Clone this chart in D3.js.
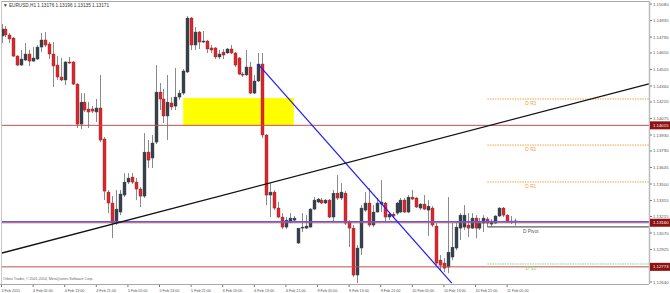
<!DOCTYPE html>
<html>
<head>
<meta charset="utf-8">
<script src="https://cdn.jsdelivr.net/npm/d3@7/dist/d3.min.js"></script>
<style>
  body { margin: 0; background: #fff; }
  svg { display: block; font-family: "Liberation Sans", Arial, sans-serif; }
</style>
</head>
<body>
<div id="chart"></div>
<script>
const title = '\u25BC EURUSD,H1  1.13176 1.13196 1.13135 1.13171';
const copyright = 'Orbex Trader, \u00A9 2001-2014, MetaQuotes Software Corp.';

// H1 bars, 3 Feb 21:00 .. 11 Feb 07:00
const opens = [
  1.14799,1.14860,1.14808,1.14781,1.14623,1.14544,1.14588,1.14641,1.14579,1.14597,
  1.14702,1.14764,1.14729,1.14641,1.14544,1.14439,1.14413,1.14571,1.14571,1.14377,
  1.14026,1.14219,1.14158,1.14158,1.14132,1.14167,1.13895,1.13429,1.13333,1.13157,
  1.13254,1.13403,1.13517,1.13561,1.13517,1.13456,1.13394,1.13780,1.13728,1.13868,
  1.14307,1.14246,1.14097,1.14211,1.14184,1.14263,1.14298,1.14483,1.14957,1.14720,
  1.14834,1.14746,1.14755,1.14694,1.14694,1.14615,1.14658,1.14650,1.14685,1.14650,
  1.14606,1.14465,1.14457,1.14527,1.14298,1.14404,1.14553,1.13930,1.13403,1.13429,
  1.13289,1.13210,1.13122,1.13166,1.13183,1.12982,1.13113,1.13113,1.13122,1.13280,
  1.13342,1.13359,1.13333,1.13359,1.13210,1.13420,1.13377,1.13420,1.13166,1.13113,
  1.12701,1.12938,1.13271,1.13333,1.13140,1.13254,1.13324,1.13333,1.13210,1.13236,
  1.13245,1.13254,1.13359,1.13254,1.13385,1.13377,1.13289,1.13324,1.13271,1.13289,
  1.13131,1.12832,1.12806,1.12771,1.12859,1.12938,1.13113,1.13122,1.13140,1.13113,
  1.13201,1.13113,1.13157,1.13192,1.13148,1.13157,1.13219,1.13289,1.13227,1.13166,
  1.13176
];
const highs = [
  1.14904,1.14887,1.14825,1.14790,1.14632,1.14676,1.14737,1.14676,1.14702,1.14720,
  1.14825,1.14834,1.14746,1.14746,1.14623,1.14606,1.14579,1.14615,1.14579,1.14386,
  1.14298,1.14298,1.14219,1.14184,1.14246,1.14457,1.13912,1.13447,1.13394,1.13447,
  1.13447,1.13596,1.13596,1.13596,1.13552,1.13473,1.13947,1.13886,1.13930,1.14544,
  1.14386,1.14334,1.14457,1.14263,1.14518,1.14325,1.14509,1.14975,1.14966,1.14878,
  1.14843,1.14843,1.14764,1.14720,1.14702,1.14676,1.14685,1.14694,1.14720,1.14658,
  1.14615,1.14483,1.14676,1.14571,1.14457,1.14650,1.14650,1.13939,1.13508,1.13447,
  1.13342,1.13245,1.13210,1.13245,1.13219,1.13113,1.13245,1.13227,1.13289,1.13385,
  1.13377,1.13377,1.13368,1.13368,1.13447,1.13579,1.13508,1.13438,1.13183,1.13140,
  1.12964,1.13315,1.13429,1.13464,1.13315,1.13377,1.13535,1.13342,1.13254,1.13254,
  1.13342,1.13377,1.13377,1.13403,1.13447,1.13385,1.13333,1.13403,1.13359,1.13306,
  1.13157,1.12876,1.12850,1.13385,1.13157,1.13166,1.13245,1.13315,1.13245,1.13245,
  1.13227,1.13201,1.13227,1.13210,1.13192,1.13227,1.13298,1.13298,1.13236,1.13219,
  1.13196
];
const lows = [
  1.14737,1.14790,1.14737,1.14615,1.14536,1.14536,1.14579,1.14536,1.14571,1.14588,
  1.14658,1.14702,1.14597,1.14351,1.14413,1.14404,1.14369,1.14553,1.14369,1.13991,
  1.13982,1.14132,1.13991,1.14123,1.14044,1.13868,1.13359,1.13245,1.13025,1.13140,
  1.13227,1.13385,1.13500,1.13500,1.13359,1.13298,1.13377,1.13640,1.13640,1.13851,
  1.14149,1.14035,1.13886,1.14149,1.14149,1.14237,1.14281,1.14474,1.14676,1.14676,
  1.14685,1.14737,1.14650,1.14650,1.14597,1.14597,1.14597,1.14641,1.14641,1.14527,
  1.14457,1.14439,1.14448,1.14290,1.14290,1.14395,1.13903,1.13315,1.13210,1.13271,
  1.13201,1.13104,1.13104,1.13157,1.13166,1.12973,1.13078,1.13104,1.13118,1.13271,
  1.13333,1.13324,1.13324,1.13201,1.13166,1.13359,1.13359,1.13140,1.12946,1.12683,
  1.12630,1.12876,1.13254,1.13122,1.13122,1.13250,1.13254,1.13166,1.13183,1.13201,
  1.13227,1.13245,1.13245,1.13245,1.13359,1.13289,1.13271,1.13271,1.13043,1.13122,
  1.12788,1.12745,1.12727,1.12718,1.12832,1.12920,1.13008,1.13096,1.13034,1.13104,
  1.13025,1.13096,1.13078,1.13122,1.13122,1.13148,1.13210,1.13210,1.13157,1.13148,
  1.13135
];
const closes = [
  1.14860,1.14808,1.14773,1.14623,1.14544,1.14597,1.14641,1.14579,1.14606,1.14702,
  1.14764,1.14720,1.14641,1.14536,1.14439,1.14413,1.14571,1.14562,1.14377,1.14026,
  1.14219,1.14149,1.14132,1.14140,1.14167,1.13886,1.13438,1.13333,1.13157,1.13280,
  1.13412,1.13517,1.13552,1.13517,1.13456,1.13394,1.13780,1.13710,1.13860,1.14307,
  1.14246,1.14097,1.14219,1.14176,1.14263,1.14298,1.14492,1.14957,1.14720,1.14834,
  1.14746,1.14755,1.14685,1.14676,1.14615,1.14641,1.14632,1.14685,1.14650,1.14544,
  1.14465,1.14457,1.14527,1.14298,1.14404,1.14553,1.13930,1.13403,1.13429,1.13289,
  1.13210,1.13122,1.13183,1.13201,1.13201,1.13113,1.13122,1.13131,1.13280,1.13359,
  1.13368,1.13333,1.13359,1.13210,1.13420,1.13377,1.13429,1.13157,1.13113,1.12701,
  1.12938,1.13289,1.13333,1.13140,1.13254,1.13333,1.13342,1.13210,1.13236,1.13219,
  1.13333,1.13359,1.13254,1.13385,1.13368,1.13298,1.13324,1.13280,1.13306,1.13140,
  1.12806,1.12788,1.12762,1.12902,1.12946,1.13122,1.13227,1.13227,1.13113,1.13201,
  1.13113,1.13157,1.13201,1.13157,1.13175,1.13219,1.13289,1.13227,1.13166,1.13175,
  1.13171
];

// time axis: one label every 8 bars
const timeLabels = ['3 Feb 2015','4 Feb 05:00','4 Feb 13:00','4 Feb 21:00','5 Feb 05:00',
  '5 Feb 13:00','5 Feb 21:00','6 Feb 05:00','6 Feb 13:00','6 Feb 21:00','9 Feb 05:00',
  '9 Feb 13:00','9 Feb 21:00','10 Feb 05:00','10 Feb 13:00','10 Feb 21:00','11 Feb 05:00'];
const labelEvery = 8;

const priceTicks = [1.15080,1.14935,1.14790,1.14650,1.14505,1.14360,1.14220,1.14075,1.13930,
  1.13790,1.13645,1.13500,1.13355,1.13215,1.13070,1.12925,1.12780,1.12640];

// drawn objects
const redLevels = [1.14015, 1.13160, 1.12773];
const blueLevel = 1.13170;
const zone = { from: 46, to: 74, top: 1.14255, bottom: 1.14015 };
const blueTrend = [[65, 1.14550], [114, 1.12630]];
const blackTrend = [[28, 1.13147], [130, 1.14072]];

// daily pivots, drawn from 11 Feb 00:00
const pivotStart = 123;
const pivotLabelAt = 134;
const pivotNames = ['D R3', 'D R2', 'D R1', 'D Pivot', 'D S1'];
const pivotValues = [1.14246, 1.13842, 1.13518, 1.13123, 1.12798];
const pivotColors = ['#f5a040', '#f5a040', '#f5a040', '#5e5e5e', '#7fd47f'];

const W = 670, H = 293;
const plot = { l: 2, r: 649, t: 2, b: 284 };

const svg = d3.select('#chart').append('svg')
  .attr('width', W).attr('height', H);

svg.append('rect').attr('width', W).attr('height', H).attr('fill', '#fff');

const x = d3.scaleLinear().domain([0, 130]).range([1.5, 515]);
const y = d3.scaleLinear().domain([1.12640, 1.15080]).range([282, 4]);

svg.append('clipPath').attr('id', 'clip')
  .append('rect')
    .attr('x', plot.l).attr('y', plot.t)
    .attr('width', plot.r - plot.l).attr('height', plot.b - plot.t);

const g = svg.append('g').attr('clip-path', 'url(#clip)');

// yellow zone behind the bars
g.append('rect')
  .attr('x', x(zone.from)).attr('y', y(zone.top))
  .attr('width', x(zone.to) - x(zone.from))
  .attr('height', y(zone.bottom) - y(zone.top))
  .attr('fill', '#ffff00');

// candles
const bars = d3.range(opens.length);
g.selectAll('.wick').data(bars).enter().append('line')
  .attr('x1', i => Math.round(x(i)) + 0.5).attr('x2', i => Math.round(x(i)) + 0.5)
  .attr('y1', i => y(highs[i])).attr('y2', i => y(lows[i]))
  .attr('stroke', '#8a8a8a').attr('stroke-width', 1);

g.selectAll('.body').data(bars).enter().append('rect')
  .attr('x', i => Math.round(x(i)) - 1)
  .attr('width', 3)
  .attr('y', i => y(Math.max(opens[i], closes[i])))
  .attr('height', i => Math.max(1, Math.abs(y(opens[i]) - y(closes[i]))))
  .attr('fill', i => closes[i] >= opens[i] ? '#36404b' : '#e2252b')
  .attr('stroke', i => closes[i] >= opens[i] ? '#36404b' : '#7a2a2a')
  .attr('stroke-width', 0.4);

// horizontal levels
g.selectAll('.red').data(redLevels).enter().append('line')
  .attr('x1', plot.l).attr('x2', plot.r)
  .attr('y1', d => y(d)).attr('y2', d => y(d))
  .attr('stroke', '#c0504d').attr('stroke-width', 1);

g.append('line')
  .attr('x1', plot.l).attr('x2', plot.r)
  .attr('y1', y(blueLevel)).attr('y2', y(blueLevel))
  .attr('stroke', '#5a5cf5').attr('stroke-width', 1.3);

// pivots
pivotValues.forEach((v, k) => {
  const isPivot = pivotNames[k] === 'D Pivot';
  g.append('line')
    .attr('x1', x(pivotStart)).attr('x2', plot.r)
    .attr('y1', y(v)).attr('y2', y(v))
    .attr('stroke', pivotColors[k])
    .attr('stroke-width', isPivot ? 1.3 : 1)
    .attr('stroke-dasharray', isPivot ? null : '1.5,1');
  g.append('text')
    .attr('x', x(pivotLabelAt)).attr('y', y(v) + 5.8)
    .attr('text-anchor', 'middle')
    .attr('font-size', 4.8)
    .attr('fill', isPivot ? '#555' : pivotColors[k])
    .text(pivotNames[k]);
});

// trend lines, extended to the plot edges
function trendPath(pts, extend) {
  const [[i0, p0], [i1, p1]] = pts;
  const slope = (p1 - p0) / (i1 - i0);
  const a = extend ? x.invert(plot.l) : i0;
  const b = extend ? x.invert(plot.r) : i1;
  return [[x(a), y(p0 + (a - i0) * slope)], [x(b), y(p0 + (b - i0) * slope)]];
}

g.append('path')
  .attr('d', d3.line()(trendPath(blueTrend, false)))
  .attr('stroke', '#1a1aff').attr('stroke-width', 1.2).attr('fill', 'none');

g.append('path')
  .attr('d', d3.line()(trendPath(blackTrend, true)))
  .attr('stroke', '#111').attr('stroke-width', 1.3).attr('fill', 'none');

// frame
svg.append('line').attr('x1', plot.l).attr('x2', plot.r).attr('y1', 1.5).attr('y2', 1.5)
  .attr('stroke', '#a8a8a8');
svg.append('line').attr('x1', 1.5).attr('x2', 1.5).attr('y1', 1).attr('y2', plot.b)
  .attr('stroke', '#c8c8c8');
svg.append('line').attr('x1', plot.r + 0.5).attr('x2', plot.r + 0.5).attr('y1', 1).attr('y2', plot.b)
  .attr('stroke', '#b8bcc0').attr('stroke-width', 1.5);
svg.append('line').attr('x1', 0).attr('x2', plot.r).attr('y1', plot.b + 0.5).attr('y2', plot.b + 0.5)
  .attr('stroke', '#a8a8a8');

// price axis
const yAxis = svg.append('g');
priceTicks.forEach(p => {
  yAxis.append('line')
    .attr('x1', plot.r + 1).attr('x2', plot.r + 3)
    .attr('y1', y(p)).attr('y2', y(p))
    .attr('stroke', '#777');
  yAxis.append('text')
    .attr('x', plot.r + 4).attr('y', y(p))
    .attr('dy', '0.35em')
    .attr('font-size', 4.3)
    .attr('fill', '#555')
    .text(p.toFixed(5));
});

// price boxes for the red levels
redLevels.forEach(p => {
  yAxis.append('rect')
    .attr('x', plot.r + 1).attr('y', y(p) - 4)
    .attr('width', W - plot.r - 1).attr('height', 8)
    .attr('fill', '#8e1212');
  yAxis.append('text')
    .attr('x', plot.r + 4).attr('y', y(p))
    .attr('dy', '0.35em')
    .attr('font-size', 4.3)
    .attr('fill', '#fff')
    .text(p.toFixed(5));
});

// time axis
const xAxis = svg.append('g');
timeLabels.forEach((t, k) => {
  const xi = x(k * labelEvery);
  xAxis.append('line')
    .attr('x1', xi).attr('x2', xi)
    .attr('y1', plot.b + 1).attr('y2', plot.b + 3)
    .attr('stroke', '#777');
  xAxis.append('text')
    .attr('x', xi).attr('y', plot.b + 7.5)
    .attr('font-size', 3.7)
    .attr('fill', '#555')
    .text(t);
});

// captions
svg.append('text').attr('x', 3).attr('y', 7)
  .attr('font-size', 4.7).attr('fill', '#333')
  .text(title);
svg.append('text').attr('x', 3).attr('y', 280)
  .attr('font-size', 3.6).attr('fill', '#666')
  .text(copyright);
</script>
</body>
</html>
